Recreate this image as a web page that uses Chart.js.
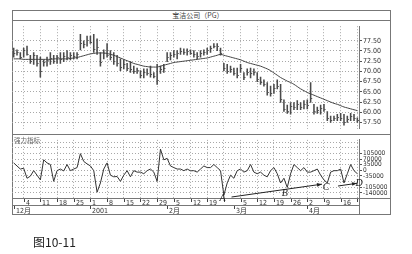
<!DOCTYPE html>
<html>
<head>
<meta charset="utf-8">
<script src="https://cdn.jsdelivr.net/npm/chart.js"></script>
<style>
  body { margin: 0; width: 412px; height: 254px; background: #fff; position: relative; overflow: hidden;
         font-family: 'Noto Sans CJK SC', sans-serif; }
  .ln { position: absolute; background: #777; }
  #frame { position: absolute; left: 12px; top: 10px; width: 379px; height: 205px; box-sizing: border-box; border: 1px solid #777; }
  #title { position: absolute; left: 148px; top: 10px; width: 100px; height: 10px; line-height: 10px; text-align: center;
           font-size: 7px; color: #444; }
  #sub { position: absolute; left: 14px; top: 136px; font-size: 6.5px; line-height: 8px; color: #666; }
  #caption { position: absolute; left: 33px; top: 234px; font-size: 12px; line-height: 15px; color: #222; }
  canvas { position: absolute; }
</style>
</head>
<body>
<div id="frame"></div>
<div class="ln" style="left:12px;top:20px;width:379px;height:1px"></div>
<div class="ln" style="left:12px;top:134px;width:379px;height:1px"></div>
<div class="ln" style="left:359px;top:198px;width:1px;height:16px"></div>
<div class="ln" style="left:359px;top:198px;width:32px;height:1px"></div>
<div id="title">宝洁公司（PG）</div>
<canvas id="price" width="378" height="113" style="left:12px;top:21px"></canvas>
<canvas id="force" width="378" height="79" style="left:12px;top:135px"></canvas>
<div id="sub">强力指标</div>
<div id="caption">图10-11</div>

<script>
// daily price bars, 2000-11-29 .. 2001-04-23 (weekdays)
const highs = [75.72,75.28,74.61,75.72,76.17,73.94,74.61,73.94,73.50,72.83,
  73.50,74.61,73.94,73.94,74.61,74.61,75.06,74.61,74.61,74.61,
  79.06,77.50,78.61,78.61,79.06,77.94,74.61,75.28,76.83,75.06,
  74.61,73.94,73.06,72.83,71.94,72.39,71.28,70.83,70.17,70.61,
  70.61,71.28,69.72,71.72,71.28,71.72,74.61,74.61,75.06,75.06,
  75.72,75.50,75.50,75.28,75.06,74.61,75.06,75.28,75.72,76.17,
  76.83,76.83,75.72,71.94,71.72,71.28,70.83,70.83,71.72,69.72,
  70.61,70.83,70.61,69.72,68.61,67.94,67.28,66.39,66.83,67.94,
  66.83,63.06,61.72,62.39,62.39,62.83,62.39,62.83,63.06,67.28,
  61.94,61.28,61.72,61.94,60.17,59.06,59.06,59.50,59.72,59.50,
  59.06,59.72,59.50,58.61];
const lows = [73.50,73.94,73.06,73.50,73.94,71.94,71.72,71.28,68.61,71.28,
  71.28,71.72,71.94,71.94,71.94,72.39,72.83,72.83,73.06,73.06,
  75.28,75.72,76.17,76.83,74.61,74.17,71.28,73.06,73.50,72.83,
  71.72,71.28,70.17,70.61,70.17,69.72,69.50,69.50,68.39,68.39,
  69.06,68.61,68.39,66.83,69.50,69.72,72.39,72.83,73.50,73.06,
  74.17,74.17,73.94,74.17,73.50,73.06,73.50,73.94,74.17,74.61,
  75.72,75.06,73.94,70.17,69.50,69.72,69.06,68.39,69.72,67.94,
  69.06,68.39,69.06,67.50,66.83,66.39,64.17,63.94,64.61,65.72,
  62.39,60.17,59.72,59.50,60.61,60.61,60.61,60.83,60.83,62.39,
  59.50,59.72,59.50,60.17,57.94,57.50,57.94,57.94,57.94,56.83,
  57.50,57.94,57.94,57.50];
const closes = [74.5,74.8,73.6,75.2,74.3,72.6,73.9,72.0,70.0,72.2,
  72.8,73.2,72.5,73.4,73.0,73.8,73.6,74.1,73.7,74.2,
  77.0,76.6,77.8,77.2,75.4,76.0,72.4,74.4,74.0,73.5,
  72.6,72.0,71.0,71.9,70.8,70.5,70.1,70.3,69.0,69.8,
  69.6,69.3,68.8,68.0,70.6,70.9,73.4,73.9,74.2,74.4,
  75.0,74.7,75.0,74.6,74.2,73.8,74.4,74.8,75.3,75.6,
  76.2,76.3,74.5,70.8,70.2,70.6,69.6,69.2,70.9,68.6,
  69.9,69.5,69.8,68.2,67.4,66.9,65.0,64.8,65.9,66.5,
  63.2,60.8,60.4,61.5,61.3,61.9,61.2,62.1,61.8,63.5,
  60.2,60.6,61.0,60.9,58.6,58.2,58.6,58.8,58.5,57.6,
  58.3,59.0,58.6,58.1];
// moving average line
const movingAvg = [73.06,73.06,73.06,72.94,72.94,72.94,72.94,72.94,72.94,72.94,
  72.94,72.94,73.06,73.06,73.06,73.06,73.06,73.17,73.28,73.39,
  73.61,73.83,74.06,74.28,74.39,74.50,74.50,74.50,74.39,74.17,
  73.94,73.61,73.28,72.94,72.61,72.28,71.94,71.72,71.50,71.28,
  71.17,71.06,71.06,71.06,71.28,71.50,71.72,71.94,72.17,72.28,
  72.39,72.50,72.61,72.72,72.83,72.94,73.06,73.17,73.28,73.50,
  73.72,73.94,74.17,73.94,73.72,73.50,73.28,73.06,72.83,72.50,
  72.17,71.94,71.72,71.50,71.28,70.94,70.61,70.17,69.61,69.06,
  68.50,68.06,67.61,67.28,66.83,66.28,65.72,65.28,64.83,64.50,
  64.17,63.83,63.50,63.17,62.83,62.50,62.17,61.94,61.61,61.28,
  61.06,60.83,60.61,60.39];
// force index
const force = [46000,27000,8000,13000,-49000,-36000,-2000,-30000,-59000,65000,
  46000,36000,-68000,-2000,8000,-4000,36000,-2000,8000,17000,
  103000,55000,40000,27000,-2000,-135000,-78000,8000,46000,-30000,
  -40000,-38000,-68000,-30000,-2000,-40000,-2000,-11000,-11000,-21000,
  -2000,8000,-11000,-68000,131000,65000,74000,27000,17000,8000,
  8000,-2000,8000,-3000,-2000,-11000,8000,27000,17000,17000,
  36000,17000,-2000,-154000,-78000,-30000,-49000,-2000,8000,-11000,
  -2000,36000,-11000,-21000,-11000,-30000,-40000,-2000,17000,-21000,
  -78000,-49000,-106000,-21000,36000,17000,-2000,17000,-11000,-11000,
  -2000,8000,-30000,-59000,-78000,-11000,-2000,-2000,8000,-78000,
  -21000,36000,-2000,-21000];

const priceTicks = [57.5, 60, 62.5, 65, 67.5, 70, 72.5, 75, 77.5];
const forceGrid = [-140000,-105000,-70000,-35000,0,35000,70000,105000,140000,175000];
const forceLabels = [105000,70000,35000,0,-35000,-105000,-140000];
const weekTicks = ['4','11','18','25','1','8','15','22','29','5','12','19','','5','12','19','26','2','9','16','23'];
const monthMarks = [['2000-11-29','12月'],['2001-01-01','2001'],['2001-02-01','2月'],['2001-03-01','3月'],['2001-04-02','4月']];
// arrows and letters, in (day index, force value)
const arrows = [[65.3,-165000,92.4,-85500],[97.2,-97000,102.9,-80000]];
const letters = [['A',62.6,-171000],['B',81.3,-142500],['C',93.6,-102600],['D',103.5,-79800]];

const days = [];
for (let t = Date.UTC(2000,10,29); days.length < highs.length; t += 864e5) {
  const d = new Date(t);
  if (d.getUTCDay() % 6) days.push(d.toISOString().slice(0,10));
}
const weekIdx = days.map((d,i) => new Date(d).getUTCDay() === 1 ? i : -1).filter(i => i >= 0);

const FONT = "'Liberation Sans Narrow','DejaVu Sans Condensed','Liberation Sans','Noto Sans CJK SC',sans-serif";
Chart.defaults.font.family = FONT;
Chart.defaults.font.size = 7;
Chart.defaults.color = '#333';

const GRID = '#a8a8a8';
const weekGrid = c => weekIdx.includes(c.index) ? GRID : 'rgba(0,0,0,0)';

const closeTicks = {
  id: 'closeTicks',
  afterDatasetsDraw(chart) {
    const {ctx, scales: {x, y}} = chart;
    ctx.save();
    ctx.strokeStyle = '#555';
    ctx.lineWidth = 1;
    ctx.beginPath();
    closes.forEach((c, i) => {
      const px = x.getPixelForValue(i);
      const py = Math.round(y.getPixelForValue(c)) + 0.5;
      ctx.moveTo(px, py);
      ctx.lineTo(px + 1.6, py);
    });
    ctx.stroke();
    ctx.restore();
  }
};

const axisRows = {
  id: 'axisRows',
  afterDraw(chart) {
    const {ctx, chartArea: a, scales: {x}} = chart;
    const y0 = Math.round(a.bottom);
    ctx.save();
    ctx.beginPath();
    ctx.rect(a.left, y0, a.right - a.left, 20);
    ctx.clip();
    ctx.strokeStyle = '#777';
    ctx.lineWidth = 1;
    ctx.beginPath();
    ctx.moveTo(a.left, y0 + 7.5);
    ctx.lineTo(a.right, y0 + 7.5);
    ctx.stroke();
    ctx.fillStyle = '#333';
    ctx.font = '7px ' + FONT;
    ctx.textBaseline = 'alphabetic';
    ctx.strokeStyle = '#444';
    weekIdx.forEach((idx, k) => {
      const px = Math.round(x.getPixelForValue(idx)) + 0.5;
      ctx.beginPath(); ctx.moveTo(px, y0 + 1); ctx.lineTo(px, y0 + 4); ctx.stroke();
      ctx.fillText(weekTicks[k], px + 1.5, y0 + 6.5);
    });
    monthMarks.forEach(([d, txt]) => {
      const px = Math.round(x.getPixelForValue(days.indexOf(d))) + 0.5;
      ctx.beginPath(); ctx.moveTo(px, y0 + 8); ctx.lineTo(px, y0 + 11); ctx.stroke();
      ctx.fillText(txt, px + 1.5, y0 + 14.5);
    });
    ctx.restore();
  }
};

const notes = {
  id: 'notes',
  afterDraw(chart) {
    const {ctx, scales: {x, y}} = chart;
    ctx.save();
    ctx.strokeStyle = '#222';
    ctx.fillStyle = '#222';
    ctx.lineWidth = 1;
    arrows.forEach(([i1, v1, i2, v2]) => {
      const x1 = x.getPixelForValue(i1), y1 = y.getPixelForValue(v1);
      const x2 = x.getPixelForValue(i2), y2 = y.getPixelForValue(v2);
      const ang = Math.atan2(y2 - y1, x2 - x1);
      ctx.beginPath(); ctx.moveTo(x1, y1); ctx.lineTo(x2, y2); ctx.stroke();
      ctx.beginPath();
      ctx.moveTo(x2, y2);
      ctx.lineTo(x2 - 5 * Math.cos(ang) + 1.8 * Math.sin(ang), y2 - 5 * Math.sin(ang) - 1.8 * Math.cos(ang));
      ctx.lineTo(x2 - 5 * Math.cos(ang) - 1.8 * Math.sin(ang), y2 - 5 * Math.sin(ang) + 1.8 * Math.cos(ang));
      ctx.closePath();
      ctx.fill();
    });
    ctx.font = "italic 10px 'Liberation Serif','DejaVu Serif',serif";
    ctx.textAlign = 'center';
    ctx.textBaseline = 'middle';
    letters.forEach(([t, i, v]) => ctx.fillText(t, x.getPixelForValue(i), y.getPixelForValue(v)));
    ctx.restore();
  }
};

const common = {
  animation: false,
  responsive: false,
  layout: { padding: 0 },
  plugins: { legend: { display: false }, tooltip: { enabled: false } }
};

new Chart(document.getElementById('price'), {
  type: 'bar',
  data: {
    labels: days,
    datasets: [
      { type: 'line', data: movingAvg, borderColor: '#444', borderWidth: 1, pointRadius: 0, tension: 0.4 },
      { data: highs.map((h, i) => [lows[i], h]), backgroundColor: '#4a4a4a', barThickness: 0.9 }
    ]
  },
  options: {
    ...common,
    scales: {
      x: {
        offset: true,
        grid: { offset: false, color: weekGrid, drawTicks: false },
        border: { display: false, dash: [1, 2] },
        ticks: { display: false, autoSkip: false },
        afterFit: s => { s.height = 0; }
      },
      y: {
        position: 'right',
        min: 55.944, max: 81.056,
        afterBuildTicks: s => { s.ticks = priceTicks.map(v => ({ value: v })); },
        ticks: { callback: v => Number(v).toFixed(2), padding: 1, color: '#333', autoSkip: false },
        grid: { color: GRID, tickLength: 3, tickColor: '#555', tickBorderDash: [] },
        border: { color: '#777', dash: [1, 2] },
        afterFit: s => { s.width = 31; }
      }
    }
  },
  plugins: [closeTicks]
});

new Chart(document.getElementById('force'), {
  type: 'line',
  data: {
    labels: days,
    datasets: [{ data: force, borderColor: '#333', borderWidth: 1, pointRadius: 0, tension: 0 }]
  },
  options: {
    ...common,
    scales: {
      x: {
        offset: true,
        grid: { offset: false, color: weekGrid, drawTicks: false },
        border: { display: true, color: '#777', dash: [1, 2] },
        ticks: { display: false, autoSkip: false },
        afterFit: s => { s.height = 16; }
      },
      y: {
        position: 'right',
        min: -171000, max: 188100,
        afterBuildTicks: s => { s.ticks = forceGrid.map(v => ({ value: v })); },
        ticks: { callback: v => forceLabels.includes(v) ? String(v) : '', padding: 1, color: '#333', autoSkip: false, font: { size: 6.5 } },
        grid: {
          color: GRID, tickLength: 3, tickBorderDash: [],
          tickColor: c => forceLabels.includes(c.tick && c.tick.value) ? '#555' : 'rgba(0,0,0,0)'
        },
        border: { color: '#777', dash: [1, 2] },
        afterFit: s => { s.width = 31; }
      }
    }
  },
  plugins: [axisRows, notes]
});
</script>
</body>
</html>
